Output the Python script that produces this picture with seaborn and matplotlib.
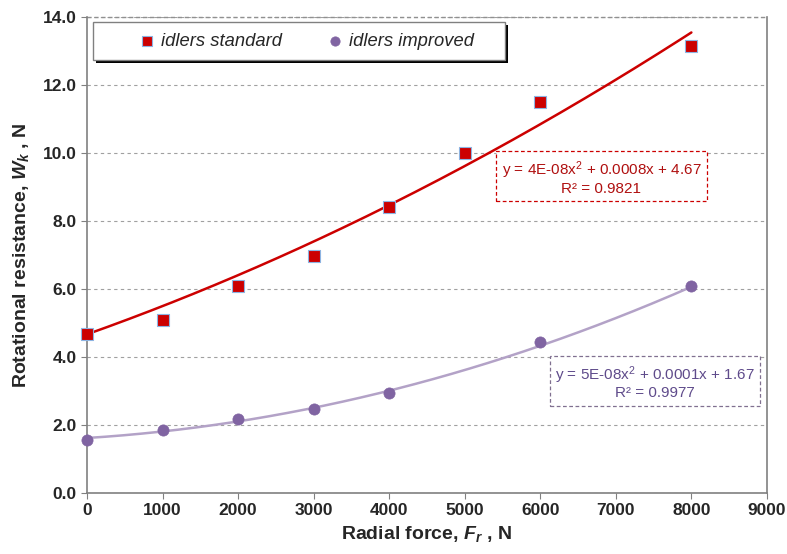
import numpy as np
import pandas as pd
import matplotlib.pyplot as plt
from matplotlib.patches import Rectangle
import seaborn as sns

# data
force_std = [0, 1000, 2000, 3000, 4000, 5000, 6000, 8000]
wk_std = [4.67, 5.09, 6.09, 6.97, 8.42, 10.0, 11.5, 13.15]

force_imp = [0, 1000, 2000, 3000, 4000, 6000, 8000]
wk_imp = [1.57, 1.86, 2.18, 2.47, 2.93, 4.44, 6.09]

# 2nd order trend lines (a, b, c), as drawn on the chart
trend_std = [4.0e-8, 0.00079, 4.67]
trend_imp = [5.2e-8, 0.00014, 1.62]
trend_max = 8000

label_std = "idlers standard"
label_imp = "idlers improved"
eq_std = "y = 4E-08x$^2$ + 0.0008x + 4.67\nR² = 0.9821"
eq_imp = "y = 5E-08x$^2$ + 0.0001x + 1.67\nR² = 0.9977"

red = "#CC0000"
purple = "#8064A2"
purple_light = "#B3A2C7"

sns.set_style("white")
plt.rcParams['font.family'] = ['Liberation Sans', 'DejaVu Sans']
plt.rcParams['mathtext.fontset'] = 'custom'
plt.rcParams['mathtext.rm'] = 'Liberation Sans'
plt.rcParams['mathtext.it'] = 'Liberation Sans:italic:bold'
plt.rcParams['mathtext.bf'] = 'Liberation Sans:bold'

fig = plt.figure(figsize=(7.87, 5.54), dpi=100)
ax = fig.add_axes([0.1105, 0.110, 0.864, 0.859])

df_std = pd.DataFrame({"F": force_std, "W": wk_std})
df_imp = pd.DataFrame({"F": force_imp, "W": wk_imp})

xs = np.linspace(0, trend_max, 200)
sns.lineplot(x=xs, y=np.polyval(trend_std, xs), ax=ax, color=red, lw=1.8, zorder=2)
sns.lineplot(x=xs, y=np.polyval(trend_imp, xs), ax=ax, color=purple_light, lw=1.8, zorder=2)

sns.scatterplot(data=df_std, x="F", y="W", ax=ax, marker="s", s=75,
                color=red, edgecolor="#8DB4E2", linewidth=0.8, zorder=3,
                label=label_std, clip_on=False)
sns.scatterplot(data=df_imp, x="F", y="W", ax=ax, marker="o", s=65,
                color=purple, edgecolor=purple, linewidth=0.5, zorder=3,
                label=label_imp, clip_on=False)

ax.set_xlim(0, 9000)
ax.set_ylim(0, 14)
ax.set_xticks(range(0, 9001, 1000))
ax.set_yticks(np.arange(0, 14.1, 2))
ax.set_yticklabels([f"{v:.1f}" for v in np.arange(0, 14.1, 2)])
ax.tick_params(axis="both", labelsize=12.5, length=4, direction="out",
               color="#808080", left=True, bottom=True)
for lab in ax.get_xticklabels() + ax.get_yticklabels():
    lab.set_fontweight("bold")

ax.yaxis.grid(True, ls=(0, (3, 3)), color="#A0A0A0", lw=0.8)
ax.set_axisbelow(True)
for side in ["left", "bottom", "right"]:
    ax.spines[side].set_color("#808080")
    ax.spines[side].set_linewidth(1.2)
ax.spines["top"].set_visible(False)
ax.axhline(14, color="#909090", lw=1.0, ls=(0, (3, 2)), clip_on=False)

ax.set_xlabel("Radial force, $\\mathit{F_r}$ , N", fontsize=14, fontweight="bold", labelpad=4)
ax.set_ylabel("Rotational resistance, $\\mathit{W_k}$ , N", fontsize=14, fontweight="bold", labelpad=8)

# legend box with hard shadow
box_x0, box_y0, box_w, box_h = 0.0088, 0.9097, 0.6059, 0.0798
ax.add_patch(Rectangle((box_x0 + 0.0045, box_y0 - 0.0065), box_w, box_h, transform=ax.transAxes,
                       fc="black", ec="black", lw=0, zorder=5, clip_on=False))
ax.add_patch(Rectangle((box_x0, box_y0), box_w, box_h, transform=ax.transAxes,
                       fc="white", ec="#808080", lw=1.0, zorder=6, clip_on=False))

leg = ax.legend(loc="center left", bbox_to_anchor=(0.064, 0.9496), ncol=2,
                frameon=False, handlelength=1.0, handletextpad=0.25,
                columnspacing=2.4, borderpad=0.4, borderaxespad=0,
                prop={"style": "italic", "size": 13.2})
leg.set_zorder(7)
for h in leg.legend_handles:
    h.set_sizes([45])
    h.set_clip_on(False)

ax.text(6810, 9.28, eq_std, color="#B01010", fontsize=11, ha="center", va="center",
        linespacing=1.05,
        bbox=dict(boxstyle="square,pad=0.35", fc="white", ec=red, ls=(0, (3, 2)), lw=0.9))
ax.text(7520, 3.26, eq_imp, color="#5F4B8B", fontsize=11, ha="center", va="center",
        linespacing=1.05,
        bbox=dict(boxstyle="square,pad=0.35", fc="white", ec="#807090", ls=(0, (3, 2)), lw=0.9))

fig.savefig("out.png", dpi=100)
